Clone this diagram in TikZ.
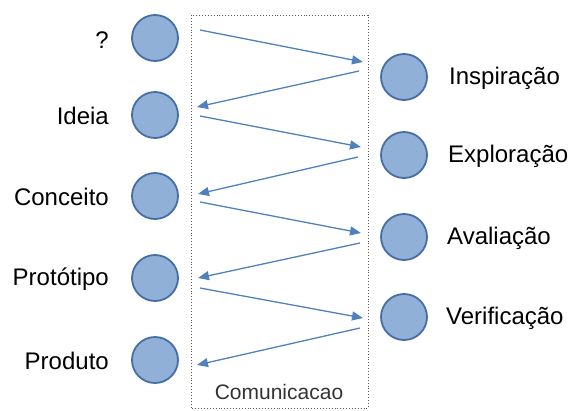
\documentclass[tikz,border=0pt]{standalone}
\usepackage{fontspec}
\setmainfont{Liberation Sans}
\usetikzlibrary{arrows.meta}
\definecolor{circfill}{RGB}{145,176,215}
\definecolor{circline}{RGB}{70,110,165}
\definecolor{arrcol}{RGB}{79,129,189}
\definecolor{boxcol}{RGB}{90,90,90}
\tikzset{
  stage/.style={circle, draw=circline, fill=circfill, line width=1.8pt, minimum size=46pt, inner sep=0pt},
  lbl/.style={font=\fontsize{24}{28}\selectfont, text=black, inner sep=0pt},
  flow/.style={draw=arrcol, line width=1.3pt, -{Triangle[length=11pt,width=9pt]}},
  commbox/.style={draw=boxcol, line width=0.9pt, dotted}
}
\begin{document}
\begin{tikzpicture}[x=1pt,y=-1pt]
\useasboundingbox (0,0) rectangle (572,410);
% communication box
\draw[commbox] (191,15) rectangle (368,408);
\node[font=\fontsize{21}{25}\selectfont, text=black!80, inner sep=0pt] (com) at (279,392) {Comunicacao};
% left circles
\node[stage] (q)  at (155,38)  {};
\node[stage] (id) at (155,115) {};
\node[stage] (co) at (155,196) {};
\node[stage] (pr) at (155,278) {};
\node[stage] (pd) at (155,360) {};
% right circles
\node[stage] (in) at (404,77)  {};
\node[stage] (ex) at (404,155) {};
\node[stage] (av) at (404,237) {};
\node[stage] (ve) at (404,317) {};
% left labels
\node[lbl, anchor=east] (lq)  at (109,40)  {?};
\node[lbl, anchor=east] (lid) at (109,116) {Ideia};
\node[lbl, anchor=east] (lco) at (109,197) {Conceito};
\node[lbl, anchor=east] (lpr) at (109,279) {Protótipo};
\node[lbl, anchor=east] (lpd) at (109,361) {Produto};
% right labels
\node[lbl, anchor=west] (lin) at (449,78)  {Inspiração};
\node[lbl, anchor=west] (lex) at (448,156) {Exploração};
\node[lbl, anchor=west] (lav) at (447,238) {Avaliação};
\node[lbl, anchor=west] (lve) at (446,318) {Verificação};
% arrow end points
\coordinate (s1) at (200,30);  \coordinate (e1) at (363,62);
\coordinate (s2) at (359,71);  \coordinate (e2) at (197,107);
\coordinate (s3) at (200,116); \coordinate (e3) at (361,147);
\coordinate (s4) at (358,157); \coordinate (e4) at (198,194);
\coordinate (s5) at (200,202); \coordinate (e5) at (361,233);
\coordinate (s6) at (360,243); \coordinate (e6) at (198,278);
\coordinate (s7) at (200,288); \coordinate (e7) at (363,318);
\coordinate (s8) at (360,328); \coordinate (e8) at (197,365);
\foreach \i in {1,...,8} {\draw[flow] (s\i) -- (e\i);}
\end{tikzpicture}
\end{document}
